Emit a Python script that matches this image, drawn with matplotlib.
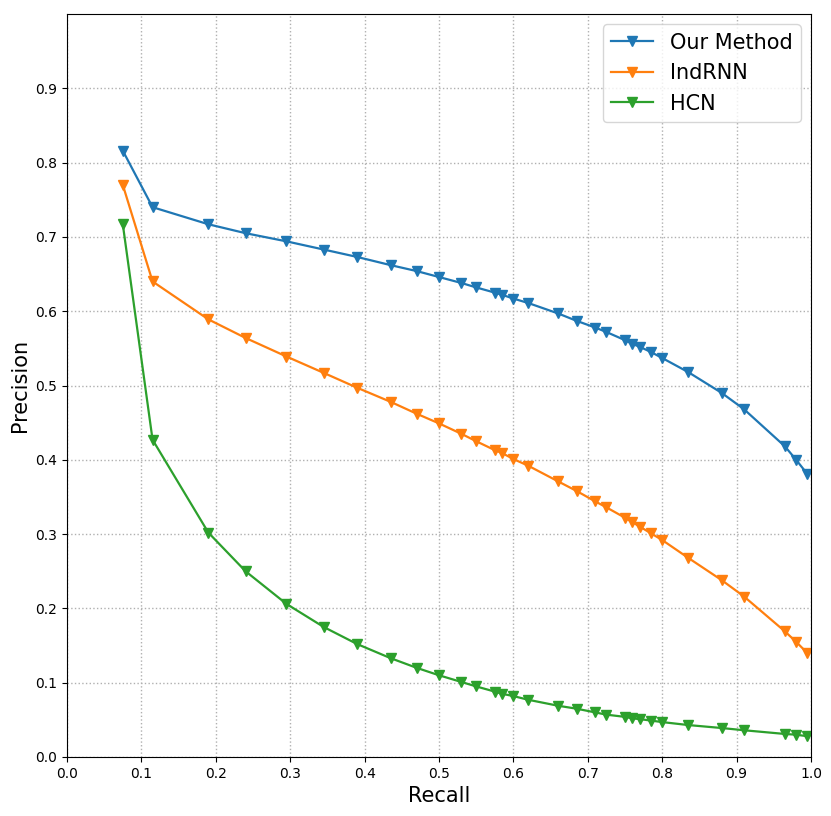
import numpy as np
import matplotlib
matplotlib.use("Agg")
import matplotlib.pyplot as plt

# Recall points shared by all three curves
recall = [0.075, 0.115, 0.19, 0.24, 0.295, 0.345, 0.39, 0.435, 0.47, 0.5,
          0.53, 0.55, 0.575, 0.585, 0.6, 0.62, 0.66, 0.685, 0.71, 0.725,
          0.75, 0.76, 0.77, 0.785, 0.8, 0.835, 0.88, 0.91, 0.965, 0.98, 0.995]

ours = [0.816, 0.740, 0.717, 0.705, 0.694, 0.683, 0.673, 0.662, 0.654, 0.646,
        0.638, 0.632, 0.625, 0.622, 0.617, 0.611, 0.597, 0.587, 0.578, 0.572,
        0.561, 0.556, 0.552, 0.545, 0.537, 0.518, 0.490, 0.468, 0.418, 0.400,
        0.381]

indrnn = [0.770, 0.640, 0.589, 0.564, 0.539, 0.517, 0.497, 0.478, 0.462, 0.449,
          0.435, 0.425, 0.413, 0.409, 0.401, 0.392, 0.371, 0.358, 0.344, 0.336,
          0.322, 0.316, 0.310, 0.301, 0.292, 0.268, 0.238, 0.216, 0.169, 0.155,
          0.140]

hcn = [0.717, 0.427, 0.302, 0.250, 0.206, 0.175, 0.152, 0.133, 0.120, 0.110,
       0.101, 0.095, 0.088, 0.085, 0.082, 0.077, 0.069, 0.065, 0.060, 0.057,
       0.054, 0.052, 0.051, 0.049, 0.047, 0.043, 0.039, 0.036, 0.031, 0.030,
       0.028]

labels = ["Our Method", "IndRNN", "HCN"]

fig = plt.figure(figsize=(8.31, 8.16), dpi=100)
ax = fig.add_axes([67 / 831, 1 - 757 / 816, (811 - 67) / 831, (757 - 14) / 816])

for ys, name in zip([ours, indrnn, hcn], labels):
    ax.plot(recall, ys, marker='v', markersize=7, linewidth=1.6, label=name)

ax.set_xlim(0, 1)
ax.set_ylim(0, 1)
ax.set_xticks(np.arange(0, 1.01, 0.1))
ax.set_yticks(np.arange(0, 0.91, 0.1))
ax.tick_params(labelsize=10)
ax.grid(True, linestyle=':', color='#b0b0b0', linewidth=1)
ax.set_xlabel("Recall", fontsize=15)
ax.set_ylabel("Precision", fontsize=15)
ax.legend(loc='upper right', fontsize=15)

fig.savefig("out.png", dpi=100)
